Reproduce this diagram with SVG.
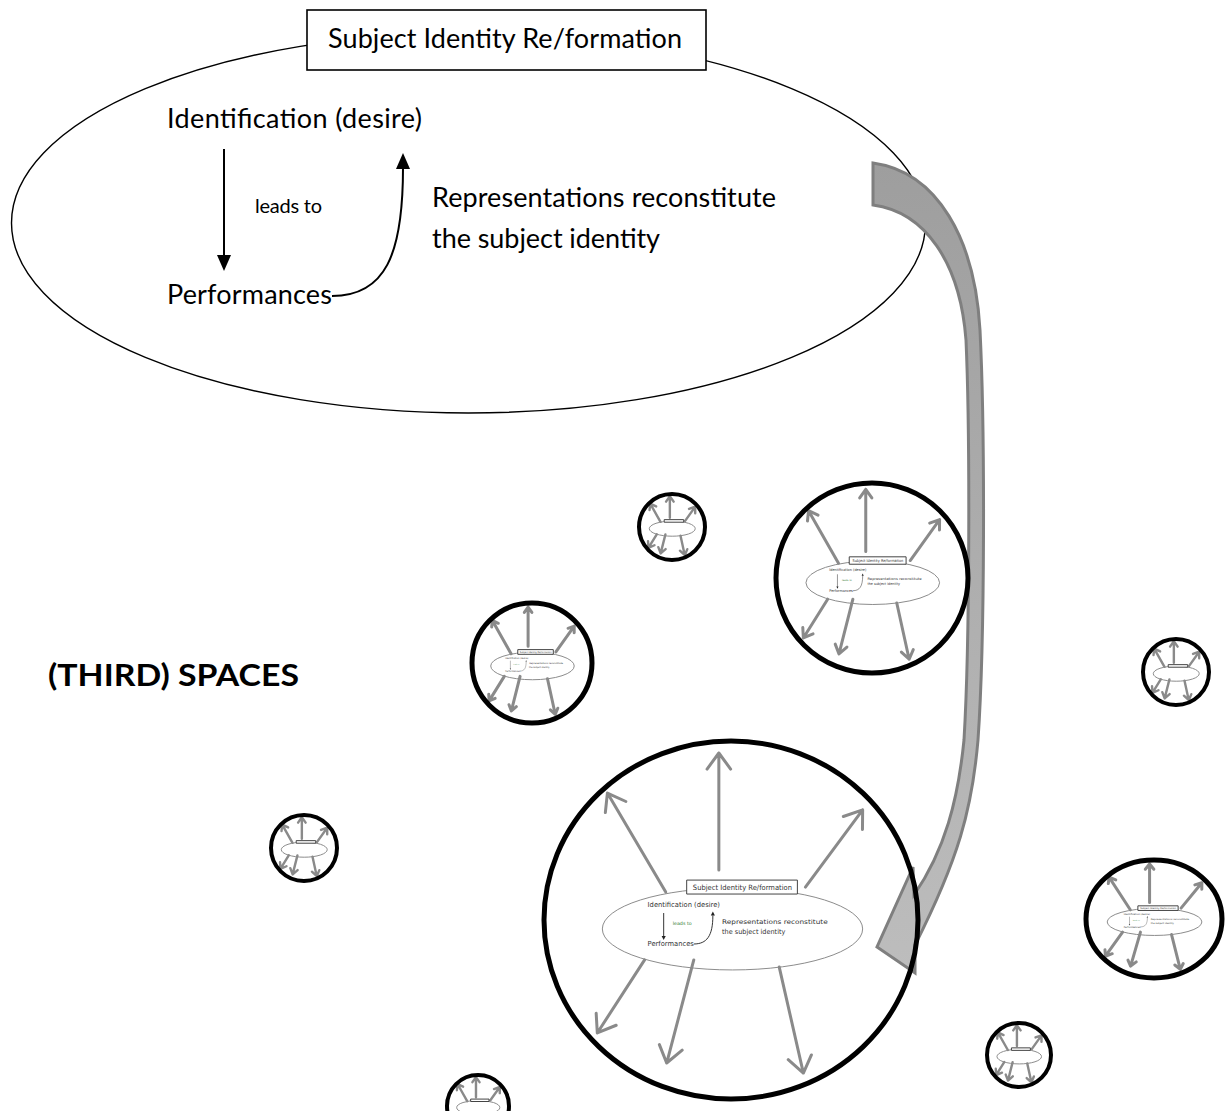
<svg xmlns="http://www.w3.org/2000/svg" xmlns:xlink="http://www.w3.org/1999/xlink" width="1228" height="1111" viewBox="0 0 1228 1111">
<defs>
<style>
.t{font-family:Lato,"Liberation Sans",sans-serif;fill:#000}
.line{fill:none;stroke:#000;stroke-width:2}
.head{fill:#000;stroke:none}
.ga{fill:none;stroke:#8a8a8a;stroke-width:3;vector-effect:non-scaling-stroke;stroke-linecap:round;stroke-linejoin:round}
.gt{fill:none;stroke:#8a8a8a;stroke-width:2.4;vector-effect:non-scaling-stroke;stroke-linecap:round;stroke-linejoin:round}
.ring{fill:none;stroke:#000;stroke-width:5;vector-effect:non-scaling-stroke}
.ringt{fill:none;stroke:#000;stroke-width:4;vector-effect:non-scaling-stroke}
.me{fill:none;stroke:#8c8c8c;stroke-width:1;vector-effect:non-scaling-stroke}
.mb{fill:#fff;stroke:#444;stroke-width:1;vector-effect:non-scaling-stroke}
.ml{fill:none;stroke:#222;stroke-width:0.5}
.mt{font-family:"DejaVu Sans","Liberation Sans",sans-serif;fill:#333}
</style>
<linearGradient id="bandFill" x1="0" y1="0" x2="0" y2="1">
<stop offset="0" stop-color="#9e9e9e"/>
<stop offset="1" stop-color="#bdbdbd"/>
</linearGradient>
<g id="mini">
<ellipse cx="0.8" cy="5" rx="69.6" ry="22.9" class="me"/>
<path class="ga" d="M-34.9,-15.6 L-66.1,-70.9 M-67.2,-60 L-66.1,-70.9 L-56.2,-66.2"/>
<path class="ga" d="M-6.5,-27.9 L-6.5,-93.3 M-12.8,-84.3 L-6.5,-93.3 L-0.2,-84.3"/>
<path class="ga" d="M39.8,-18.4 L70.4,-61.5 M60.05,-57.8 L70.4,-61.5 L70.3,-50.5"/>
<path class="ga" d="M-46.2,22.3 L-71.5,63.1 M-61.4,58.8 L-71.5,63.1 L-72.1,52.1"/>
<path class="ga" d="M-19.9,22.3 L-34.4,79.9 M-26.1,72.7 L-34.4,79.9 L-38.3,69.6"/>
<path class="ga" d="M25.8,26.3 L38.7,85.5 M43,75.4 L38.7,85.5 L30.6,78"/>
<rect x="-23.7" y="-22.3" width="59.2" height="7.8" class="mb"/>
<text class="mt" x="-20.4" y="-16.9" font-size="4.1" textLength="53" lengthAdjust="spacingAndGlyphs">Subject Identity Re/formation</text>
<text class="mt" x="-44.6" y="-7.3" font-size="3.9" textLength="38.7" lengthAdjust="spacingAndGlyphs">Identification (desire)</text>
<text class="mt" x="-31.2" y="2.8" font-size="2.6" style="fill:#2f7a2f" textLength="10.2" lengthAdjust="spacingAndGlyphs">leads to</text>
<text class="mt" x="-4.8" y="2.2" font-size="3.6" textLength="56.5" lengthAdjust="spacingAndGlyphs">Representations reconstitute</text>
<text class="mt" x="-4.8" y="7.8" font-size="3.8" textLength="33.9" lengthAdjust="spacingAndGlyphs">the subject identity</text>
<text class="mt" x="-44.6" y="14.5" font-size="3.9" textLength="24.7" lengthAdjust="spacingAndGlyphs">Performances</text>
<path class="ml" d="M-36,-3.9 L-36,9.4"/>
<polygon points="-37.1,9 -34.9,9 -36,11.2" fill="#222"/>
<path class="ml" d="M-19.9,13.4 C-13,13.4 -9.7,9 -9.7,-2.5"/>
<polygon points="-10.8,-2.5 -8.6,-2.5 -9.7,-4.7" fill="#222"/>
<circle r="100" class="ring"/>
</g>
<g id="tiny">
<ellipse cx="0.8" cy="5" rx="69.6" ry="22.9" class="me"/>
<path class="gt" d="M-34.9,-15.6 L-66.1,-70.9 M-68.1,-51 L-66.1,-70.9 L-48.1,-62.3"/>
<path class="gt" d="M-6.5,-27.9 L-6.5,-93.3 M-18,-76.9 L-6.5,-93.3 L5,-76.9"/>
<path class="gt" d="M39.8,-18.4 L70.4,-61.5 M51.6,-54.8 L70.4,-61.5 L70.3,-41.5"/>
<path class="gt" d="M-46.2,22.3 L-71.5,63.1 M-53.1,55.3 L-71.5,63.1 L-72.6,43.1"/>
<path class="gt" d="M-19.9,22.3 L-34.4,79.9 M-19.3,66.8 L-34.4,79.9 L-41.5,61.2"/>
<path class="gt" d="M25.8,26.3 L38.7,85.5 M46.5,67.1 L38.7,85.5 L24,71.9"/>
<rect x="-23.7" y="-22.3" width="59.2" height="7.8" class="mb"/>
<circle r="100" class="ringt"/>
</g>
</defs>
<rect x="0" y="0" width="1228" height="1111" fill="#fff"/>

<g id="subject-identity-ellipse">
<ellipse cx="468.5" cy="223" rx="457" ry="190" fill="none" stroke="#000" stroke-width="1.4"/>
</g>
<g id="title-box">
<rect x="307" y="10" width="399" height="60" fill="#fff" stroke="#000" stroke-width="1.6"/>
<text class="t" x="328" y="48" font-size="27" textLength="354">Subject Identity Re/formation</text>
</g>
<g id="identification">
<text class="t" x="167" y="128" font-size="27" textLength="255">Identification (desire)</text>
</g>
<g id="performances">
<text class="t" x="167" y="304" font-size="27" textLength="165">Performances</text>
</g>
<g id="representations">
<text class="t" x="432" y="207" font-size="27" textLength="344">Representations reconstitute</text>
<text class="t" x="432" y="248" font-size="27" textLength="228">the subject identity</text>
</g>
<g id="third-spaces">
<text class="t" x="48" y="686" font-size="31" font-weight="bold" textLength="251" lengthAdjust="spacingAndGlyphs">(THIRD) SPACES</text>
</g>

<g id="connectors">
<g id="leads-to">
<path class="line" d="M224,149 L224,257"/>
<polygon class="head" points="217,255 231,255 224,271"/>
<text class="t" x="255" y="213" font-size="20" textLength="67">leads to</text>
</g>
<g id="reconstitute-arrow">
<path class="line" d="M332,296 C385,296 403,255 403,168"/>
<polygon class="head" points="396,169 410,169 403,153"/>
</g>
<g id="band-arrow">
<path d="M873,163 C938,172 975,240 980,330 C985,430 985,640 978,740 C972,810 958,860 915,945 L915,973 L877,947 L913,867 L914,895 C945,850 958,800 964,740 C970,640 970,430 966,340 C960,262 925,212 873,205 Z" fill="url(#bandFill)" stroke="#7f7f7f" stroke-width="3" stroke-linejoin="miter"/>
</g>
</g>

<g id="space-big">
<use xlink:href="#mini" href="#mini" transform="translate(731,920) scale(1.87,1.79)"/>
</g>
<g id="space-medium">
<use xlink:href="#mini" href="#mini" transform="translate(872,578) scale(0.96,0.95)"/>
</g>
<g id="space-small">
<use xlink:href="#mini" href="#mini" transform="translate(532,663) scale(0.6,0.6)"/>
</g>
<g id="space-right">
<use xlink:href="#mini" href="#mini" transform="translate(1154,919) scale(0.68,0.59)"/>
</g>
<g id="space-tiny-1">
<use xlink:href="#tiny" href="#tiny" transform="translate(672,527) scale(0.33)"/>
</g>
<g id="space-tiny-2">
<use xlink:href="#tiny" href="#tiny" transform="translate(1176,672) scale(0.33)"/>
</g>
<g id="space-tiny-3">
<use xlink:href="#tiny" href="#tiny" transform="translate(304,848) scale(0.33)"/>
</g>
<g id="space-tiny-4">
<use xlink:href="#tiny" href="#tiny" transform="translate(1019,1055) scale(0.32)"/>
</g>
<g id="space-tiny-5">
<use xlink:href="#tiny" href="#tiny" transform="translate(478,1106) scale(0.31)"/>
</g>
</svg>
